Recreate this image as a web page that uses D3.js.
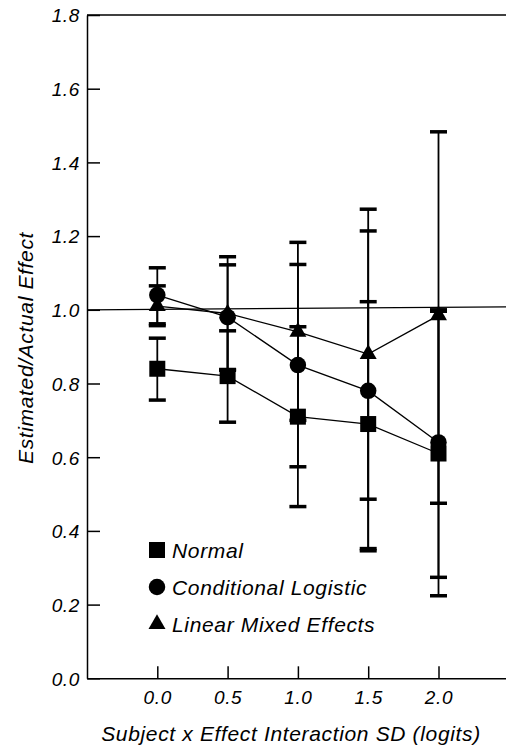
<!DOCTYPE html>
<html>
<head>
<meta charset="utf-8">
<script src="https://cdn.jsdelivr.net/npm/d3@7"></script>
<style>
  body { margin: 0; background: #fff; }
  svg { display: block; }
  text { font-family: "Liberation Sans", Arial, Helvetica, sans-serif; font-style: italic; fill: #000; letter-spacing: 0.65px; }
</style>
</head>
<body>
<svg width="506" height="746"></svg>
<script>
// interaction SD values (logits)
var sdValues = [0, 0.5, 1.0, 1.5, 2.0];

// Normal
var normalMean = [0.84, 0.82, 0.71, 0.69, 0.61];
var normalLo   = [0.755, 0.695, 0.466, 0.352, 0.224];
var normalHi   = [0.923, 0.943, 0.954, 1.022, 0.996];

// Conditional Logistic
var condMean = [1.04, 0.98, 0.85, 0.78, 0.64];
var condLo   = [0.962, 0.838, 0.574, 0.346, 0.274];
var condHi   = [1.114, 1.122, 1.123, 1.214, 1.000];

// Linear Mixed Effects
var lmeMean = [1.01, 0.99, 0.94, 0.88, 0.985];
var lmeLo   = [0.957, 0.836, 0.70, 0.486, 0.475];
var lmeHi   = [1.065, 1.144, 1.183, 1.273, 1.483];

var xTicks = [0, 0.5, 1.0, 1.5, 2.0];
var yTicks = [0, 0.2, 0.4, 0.6, 0.8, 1.0, 1.2, 1.4, 1.6, 1.8];
var refLine = [[-0.5, 1.0], [2.5, 1.008]];

var series = [
  { name: "Linear Mixed Effects", mean: lmeMean, lo: lmeLo, hi: lmeHi, shape: d3.symbolTriangle, size: 125 },
  { name: "Conditional Logistic", mean: condMean, lo: condLo, hi: condHi, shape: d3.symbolCircle, size: 214 },
  { name: "Normal", mean: normalMean, lo: normalLo, hi: normalHi, shape: d3.symbolSquare, size: 256 }
];
var legendOrder = ["Normal", "Conditional Logistic", "Linear Mixed Effects"];

var svg = d3.select("svg");
var margin = { top: 15, left: 87, bottom: 678.3, right: 508.8 };

var x = d3.scaleLinear().domain([-0.5, 2.5]).range([margin.left, margin.right]);
var y = d3.scaleLinear().domain([0, 1.8]).range([margin.bottom, margin.top]);

// frame top line
svg.append("line")
  .attr("x1", x(-0.5)).attr("x2", x(2.5))
  .attr("y1", y(1.8)).attr("y2", y(1.8))
  .attr("stroke", "#000").attr("stroke-width", 1.5);

// axes
var yAxis = svg.append("g")
  .attr("transform", "translate(" + margin.left + ",0)")
  .call(d3.axisLeft(y).tickValues(yTicks).tickFormat(d3.format(".1f"))
    .tickSize(-13).tickSizeOuter(0).tickPadding(7));

var xAxis = svg.append("g")
  .attr("transform", "translate(0," + margin.bottom + ")")
  .call(d3.axisBottom(x).tickValues(xTicks).tickFormat(d3.format(".1f"))
    .tickSize(-12).tickSizeOuter(0).tickPadding(12));

[yAxis, xAxis].forEach(function(a) {
  a.select(".domain").attr("stroke-width", 1.5);
  a.selectAll(".tick line").attr("stroke-width", 1.5);
  a.selectAll(".tick text")
    .style("font-size", "19px")
    .attr("font-family", null);
});
yAxis.selectAll(".tick text").attr("dy", "0.36em");
xAxis.selectAll(".tick text").attr("dy", "0.71em");

// reference line at 1.0
svg.append("line")
  .attr("x1", x(refLine[0][0])).attr("y1", y(refLine[0][1]))
  .attr("x2", x(refLine[1][0])).attr("y2", y(refLine[1][1]))
  .attr("stroke", "#000").attr("stroke-width", 1.3);

// error bars
var capW = 8.5;
series.forEach(function(s) {
  var g = svg.append("g");
  sdValues.forEach(function(v, i) {
    g.append("line")
      .attr("x1", x(v)).attr("x2", x(v))
      .attr("y1", y(s.lo[i])).attr("y2", y(s.hi[i]))
      .attr("stroke", "#000").attr("stroke-width", 1.8);
    [s.lo[i], s.hi[i]].forEach(function(c) {
      g.append("line")
        .attr("x1", x(v) - capW).attr("x2", x(v) + capW)
        .attr("y1", y(c)).attr("y2", y(c))
        .attr("stroke", "#000").attr("stroke-width", 3.5);
    });
  });
});

// connecting lines
var line = d3.line()
  .x(function(d) { return x(d[0]); })
  .y(function(d) { return y(d[1]); });

series.forEach(function(s) {
  svg.append("path")
    .datum(sdValues.map(function(v, i) { return [v, s.mean[i]]; }))
    .attr("d", line)
    .attr("fill", "none")
    .attr("stroke", "#000")
    .attr("stroke-width", 1.3);
});

// markers
series.forEach(function(s) {
  svg.append("g").selectAll("path")
    .data(sdValues.map(function(v, i) { return [v, s.mean[i]]; }))
    .enter().append("path")
    .attr("d", d3.symbol().type(s.shape).size(s.size))
    .attr("transform", function(d) { return "translate(" + x(d[0]) + "," + y(d[1]) + ")"; })
    .attr("fill", "#000");
});

// legend
var legend = svg.append("g").attr("transform", "translate(157,550)");
legendOrder.forEach(function(name, i) {
  var s = series.filter(function(d) { return d.name === name; })[0];
  var row = legend.append("g").attr("transform", "translate(0," + (i * 37) + ")");
  row.append("path")
    .attr("d", d3.symbol().type(s.shape).size(s.size))
    .attr("fill", "#000");
  row.append("text")
    .attr("x", 15)
    .attr("y", 7.5)
    .style("font-size", "21px")
    .text(name);
});

// axis titles
svg.append("text")
  .attr("x", 291)
  .attr("y", 741)
  .attr("text-anchor", "middle")
  .style("font-size", "21px")
  .text("Subject x Effect Interaction SD (logits)");

svg.append("text")
  .attr("transform", "translate(33,348) rotate(-90)")
  .attr("text-anchor", "middle")
  .style("font-size", "21px")
  .text("Estimated/Actual Effect");
</script>
</body>
</html>
